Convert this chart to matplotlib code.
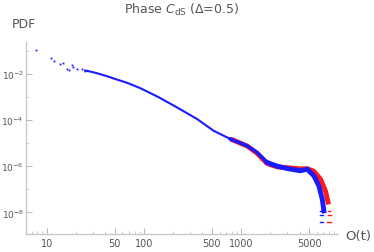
import numpy as np
import matplotlib
matplotlib.use("Agg")
import matplotlib.pyplot as plt
from matplotlib.ticker import FixedLocator, NullFormatter

# sparse points at small O(t) (blue run only)
sparse_x = [7.8, 11.0, 11.9, 13.7, 14.8, 16.1, 16.9, 18.1, 18.8, 20.4, 22.9, 24.8]
sparse_y = [0.103, 0.0497, 0.0367, 0.0272, 0.030, 0.0165, 0.0149, 0.023, 0.0195, 0.0165, 0.0165, 0.0139]

# main ridge of the blue run
blue_x = [24.8, 27.9, 32.7, 41.6, 52.7, 66.8, 91.6, 141, 219, 288, 352, 522, 776,
          1153, 1462, 1854, 2350, 2980, 4080, 4790, 5610, 6310, 6840, 7110]
blue_y = [0.0139, 0.0126, 0.0107, 0.0079, 0.00565, 0.0041, 0.0024, 0.00098, 3.5e-4,
          1.8e-4, 1.1e-4, 3.4e-5, 1.5e-5, 7.6e-6, 3.9e-6, 1.45e-6, 1.0e-6, 7.9e-7,
          6.3e-7, 7.4e-7, 3.8e-7, 1.4e-7, 3.7e-8, 1.15e-8]

# red run, differs only in the tail
red_x = [776, 1153, 1462, 1854, 2350, 2980, 4080, 4790, 5610, 6580, 7400, 7940]
red_y = [1.5e-5, 7.5e-6, 3.6e-6, 1.3e-6, 9.3e-7, 8.6e-7, 7.6e-7, 7.8e-7, 6.0e-7,
         2.7e-7, 8.2e-8, 2.2e-8]

# single-count dashes in the far tail (levels = 1, 2, 3 events)
tail_levels = [3.8e-9, 7.6e-9, 1.14e-8]
blue_tail_x = [(6450, 7000), (6500, 6950), (6550, 7000)]
red_tail_x = [(7700, 8400), (7750, 8350), (7800, 8300)]

BLUE = "#1a1aff"
RED = "#ff1a1a"
GRAY = "#555555"

fig = plt.figure(figsize=(3.74, 2.53), dpi=100)
ax = fig.add_axes([0.0695, 0.071, 0.835, 0.76])

# red first, blue on top
ax.plot(red_x, red_y, color=RED, lw=3.5, solid_capstyle="butt")
for (x0, x1), lev in zip(red_tail_x, tail_levels):
    ax.plot([x0, x1], [lev, lev], color=RED, lw=1.0)

ax.plot(blue_x[:13], blue_y[:13], color=BLUE, lw=1.5)
ax.plot(blue_x[12:16], blue_y[12:16], color=BLUE, lw=2.5)
ax.plot(blue_x[15:], blue_y[15:], color=BLUE, lw=3.5)
for (x0, x1), lev in zip(blue_tail_x, tail_levels):
    ax.plot([x0, x1], [lev, lev], color=BLUE, lw=1.0)
ax.plot(sparse_x, sparse_y, ls="none", marker="s", ms=1.3, color=BLUE, mew=0)

ax.set_xscale("log")
ax.set_yscale("log")
ax.set_xlim(6.1, 10000)
ax.set_ylim(10 ** -8.94, 10 ** -0.61)

xt = [10, 50, 100, 500, 1000, 5000]
ax.xaxis.set_major_locator(FixedLocator(xt))
ax.set_xticklabels([str(v) for v in xt])
ax.xaxis.set_minor_formatter(NullFormatter())

yt = [1e-2, 1e-4, 1e-6, 1e-8]
ax.yaxis.set_major_locator(FixedLocator(yt))
ax.set_yticklabels([r"$10^{-2}$", r"$10^{-4}$", r"$10^{-6}$", r"$10^{-8}$"])
ax.yaxis.set_minor_locator(FixedLocator([1e-1, 1e-3, 1e-5, 1e-7]))
ax.yaxis.set_minor_formatter(NullFormatter())

for s in ["top", "right"]:
    ax.spines[s].set_visible(False)
for s in ["left", "bottom"]:
    ax.spines[s].set_color("#c8c8c8")
    ax.spines[s].set_linewidth(1.0)

ax.tick_params(which="major", direction="in", length=4, width=0.6, color="#aaaaaa",
               labelsize=7, labelcolor=GRAY, pad=3)
ax.tick_params(axis="y", which="major", labelsize=6.5, pad=1.5)
ax.tick_params(which="minor", direction="in", length=2, width=0.5, color="#bbbbbb")

fig.text(0.485, 0.962, r"Phase $C_{\rm dS}$ ($\Delta$=0.5)", ha="center", va="center",
         fontsize=9, color=GRAY)
fig.text(0.032, 0.905, "PDF", ha="left", va="center", fontsize=9, color=GRAY)
fig.text(0.922, 0.065, "O(t)", ha="left", va="center", fontsize=9.5, color=GRAY)

fig.savefig("out.png", dpi=100)
